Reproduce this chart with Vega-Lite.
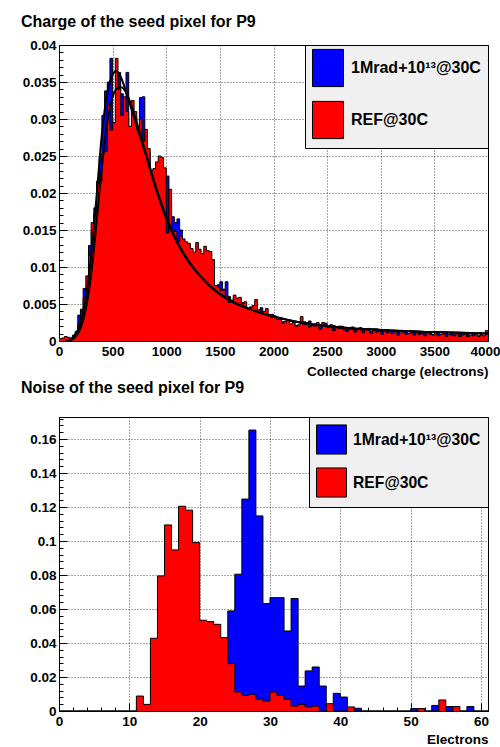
{
  "$schema": "https://vega.github.io/schema/vega-lite/v6.json",
  "padding": {"left": 20, "top": 13, "right": 0, "bottom": 0},
  "background": "white",
  "config": {
    "font": "Liberation Sans",
    "view": {"stroke": "black", "strokeWidth": 1},
    "axis": {
      "labelFont": "Liberation Sans", "labelFontWeight": "bold", "labelFontSize": 13.5, "labelColor": "black",
      "titleFont": "Liberation Sans", "titleFontWeight": "bold", "titleFontSize": 13.5, "titleColor": "black",
      "domainColor": "black", "tickColor": "black", "gridColor": "black", "gridDash": [1, 2],
      "labelOverlap": false, "labelFlush": false, "labelPadding": 11
    },
    "title": {"font": "Liberation Sans", "fontSize": 16, "fontWeight": "bold", "color": "black", "anchor": "start", "frame": "bounds", "offset": 8},
    "legend": {
      "orient": "top-right", "offset": 0, "padding": 7, "fillColor": "#f0f0f0", "strokeColor": "black",
      "labelFont": "Liberation Sans", "labelFontWeight": "bold", "labelColor": "black", "labelLimit": 0,
      "symbolStrokeColor": "black", "symbolStrokeWidth": 1, "symbolOpacity": 1, "title": null
    }
  },
  "datasets": {
    "top_blue": [
      {"x":0,"y":0},{"x":25,"y":0.0001},{"x":50,"y":0.0003},{"x":75,"y":0.0004},{"x":100,"y":0.0003},{"x":125,"y":0.0008},{"x":150,"y":0.001},{"x":175,"y":0.0035},{"x":200,"y":0.0043},{"x":225,"y":0.0071},
      {"x":250,"y":0.0072},{"x":275,"y":0.0129},{"x":300,"y":0.0148},{"x":325,"y":0.018},{"x":350,"y":0.0216},{"x":375,"y":0.025},{"x":400,"y":0.0305},{"x":425,"y":0.0338},{"x":450,"y":0.035},{"x":475,"y":0.0382},
      {"x":500,"y":0.0295},{"x":525,"y":0.026},{"x":550,"y":0.0363},{"x":575,"y":0.0334},{"x":600,"y":0.027},{"x":625,"y":0.0363},{"x":650,"y":0.029},{"x":675,"y":0.028},{"x":700,"y":0.0302},{"x":725,"y":0.0265},
      {"x":750,"y":0.0329},{"x":775,"y":0.033},{"x":800,"y":0.026},{"x":825,"y":0.0255},{"x":850,"y":0.0225},{"x":875,"y":0.021},{"x":900,"y":0.0208},{"x":925,"y":0.022},{"x":950,"y":0.0205},{"x":975,"y":0.0195},
      {"x":1000,"y":0.0223},{"x":1025,"y":0.0146},{"x":1050,"y":0.0168},{"x":1075,"y":0.016},{"x":1100,"y":0.0165},{"x":1125,"y":0.015},{"x":1150,"y":0.0125},{"x":1175,"y":0.011},{"x":1200,"y":0.013},{"x":1225,"y":0.01},
      {"x":1250,"y":0.0115},{"x":1275,"y":0.0105},{"x":1300,"y":0.0102},{"x":1325,"y":0.0098},{"x":1350,"y":0.009},{"x":1375,"y":0.0085},{"x":1400,"y":0.0082},{"x":1425,"y":0.0075},{"x":1450,"y":0.007},{"x":1475,"y":0.0076},
      {"x":1500,"y":0.008},{"x":1525,"y":0.007},{"x":1550,"y":0.008},{"x":1575,"y":0.006},{"x":1600,"y":0.0055},{"x":1625,"y":0.0058},{"x":1650,"y":0.0042},{"x":1675,"y":0.0045},{"x":1700,"y":0.0052},{"x":1725,"y":0.004},
      {"x":1750,"y":0.0028},{"x":1775,"y":0.0046},{"x":1800,"y":0.0042},{"x":1825,"y":0.004},{"x":1850,"y":0.0022},{"x":1875,"y":0.0045},{"x":1900,"y":0.0038},{"x":1925,"y":0.0035},{"x":1950,"y":0.0017},{"x":1975,"y":0.0036},
      {"x":2000,"y":0.0032},{"x":2025,"y":0.0025},{"x":2050,"y":0.0028},{"x":2075,"y":0.0026},{"x":2100,"y":0.0022},{"x":2125,"y":0.0027},{"x":2150,"y":0.0018},{"x":2175,"y":0.0024},{"x":2200,"y":0.0021},{"x":2225,"y":0.002},
      {"x":2250,"y":0.002},{"x":2275,"y":0.0026},{"x":2300,"y":0.0018},{"x":2325,"y":0.0027},{"x":2350,"y":0.0016},{"x":2375,"y":0.0023},{"x":2400,"y":0.0019},{"x":2425,"y":0.0022},{"x":2450,"y":0.0015},{"x":2475,"y":0.0024},
      {"x":2500,"y":0.0016},{"x":2525,"y":0.0019},{"x":2550,"y":0.0021},{"x":2575,"y":0.0013},{"x":2600,"y":0.002},{"x":2625,"y":0.0015},{"x":2650,"y":0.0018},{"x":2675,"y":0.0017},{"x":2700,"y":0.0012},{"x":2725,"y":0.0019},
      {"x":2750,"y":0.0015},{"x":2775,"y":0.0012},{"x":2800,"y":0.0018},{"x":2825,"y":0.0014},{"x":2850,"y":0.0011},{"x":2875,"y":0.0017},{"x":2900,"y":0.0013},{"x":2925,"y":0.001},{"x":2950,"y":0.0016},{"x":2975,"y":0.0011},
      {"x":3000,"y":0.0013},{"x":3025,"y":0.001},{"x":3050,"y":0.0015},{"x":3075,"y":0.0009},{"x":3100,"y":0.0013},{"x":3125,"y":0.0011},{"x":3150,"y":0.0012},{"x":3175,"y":0.0008},{"x":3200,"y":0.001},{"x":3225,"y":0.0013},
      {"x":3250,"y":0.0009},{"x":3275,"y":0.001},{"x":3300,"y":0.0012},{"x":3325,"y":0.0008},{"x":3350,"y":0.0011},{"x":3375,"y":0.0009},{"x":3400,"y":0.0011},{"x":3425,"y":0.0008},{"x":3450,"y":0.0012},{"x":3475,"y":0.0009},
      {"x":3500,"y":0.0008},{"x":3525,"y":0.001},{"x":3550,"y":0.0007},{"x":3575,"y":0.0009},{"x":3600,"y":0.001},{"x":3625,"y":0.0007},{"x":3650,"y":0.001},{"x":3675,"y":0.0009},{"x":3700,"y":0.0007},{"x":3725,"y":0.0009},
      {"x":3750,"y":0.001},{"x":3775,"y":0.0007},{"x":3800,"y":0.0009},{"x":3825,"y":0.0006},{"x":3850,"y":0.001},{"x":3875,"y":0.0008},{"x":3900,"y":0.0007},{"x":3925,"y":0.0009},{"x":3950,"y":0.0006},{"x":3975,"y":0.0008},
      {"x":4000,"y":0.0008}
    ],
    "top_red": [
      {"x":0,"y":0.0003},{"x":25,"y":0.0004},{"x":50,"y":0.0006},{"x":75,"y":0.0005},{"x":100,"y":0.0002},{"x":125,"y":0.0006},{"x":150,"y":0.0013},{"x":175,"y":0.0022},{"x":200,"y":0.0036},{"x":225,"y":0.0058},
      {"x":250,"y":0.0088},{"x":275,"y":0.0115},{"x":300,"y":0.016},{"x":325,"y":0.0172},{"x":350,"y":0.0213},{"x":375,"y":0.0215},{"x":400,"y":0.0254},{"x":425,"y":0.0256},{"x":450,"y":0.0318},{"x":475,"y":0.0285},
      {"x":500,"y":0.0295},{"x":525,"y":0.0382},{"x":550,"y":0.034},{"x":575,"y":0.0305},{"x":600,"y":0.033},{"x":625,"y":0.031},{"x":650,"y":0.029},{"x":675,"y":0.0325},{"x":700,"y":0.031},{"x":725,"y":0.0285},
      {"x":750,"y":0.03},{"x":775,"y":0.027},{"x":800,"y":0.0286},{"x":825,"y":0.026},{"x":850,"y":0.023},{"x":875,"y":0.0233},{"x":900,"y":0.0242},{"x":925,"y":0.025},{"x":950,"y":0.0248},{"x":975,"y":0.0234},
      {"x":1000,"y":0.0146},{"x":1025,"y":0.0205},{"x":1050,"y":0.015},{"x":1075,"y":0.0148},{"x":1100,"y":0.0135},{"x":1125,"y":0.0142},{"x":1150,"y":0.0138},{"x":1175,"y":0.0134},{"x":1200,"y":0.0132},{"x":1225,"y":0.0125},
      {"x":1250,"y":0.012},{"x":1275,"y":0.0133},{"x":1300,"y":0.0124},{"x":1325,"y":0.0118},{"x":1350,"y":0.0128},{"x":1375,"y":0.0122},{"x":1400,"y":0.0121},{"x":1425,"y":0.011},{"x":1450,"y":0.0075},{"x":1475,"y":0.0073},
      {"x":1500,"y":0.0068},{"x":1525,"y":0.0069},{"x":1550,"y":0.0061},{"x":1575,"y":0.0052},{"x":1600,"y":0.0055},{"x":1625,"y":0.0062},{"x":1650,"y":0.0058},{"x":1675,"y":0.0059},{"x":1700,"y":0.005},{"x":1725,"y":0.0053},
      {"x":1750,"y":0.0043},{"x":1775,"y":0.0045},{"x":1800,"y":0.0048},{"x":1825,"y":0.0056},{"x":1850,"y":0.0042},{"x":1875,"y":0.0039},{"x":1900,"y":0.004},{"x":1925,"y":0.0044},{"x":1950,"y":0.0036},{"x":1975,"y":0.0032},
      {"x":2000,"y":0.0034},{"x":2025,"y":0.0029},{"x":2050,"y":0.003},{"x":2075,"y":0.0024},{"x":2100,"y":0.0026},{"x":2125,"y":0.0029},{"x":2150,"y":0.0023},{"x":2175,"y":0.0025},{"x":2200,"y":0.002},{"x":2225,"y":0.0022},
      {"x":2250,"y":0.0033},{"x":2275,"y":0.0022},{"x":2300,"y":0.0025},{"x":2325,"y":0.0019},{"x":2350,"y":0.0021},{"x":2375,"y":0.002},{"x":2400,"y":0.0025},{"x":2425,"y":0.0016},{"x":2450,"y":0.0025},{"x":2475,"y":0.002},
      {"x":2500,"y":0.0018},{"x":2525,"y":0.0022},{"x":2550,"y":0.0014},{"x":2575,"y":0.0019},{"x":2600,"y":0.0017},{"x":2625,"y":0.002},{"x":2650,"y":0.0015},{"x":2675,"y":0.0013},{"x":2700,"y":0.0018},{"x":2725,"y":0.0016},
      {"x":2750,"y":0.0012},{"x":2775,"y":0.0017},{"x":2800,"y":0.0015},{"x":2825,"y":0.0011},{"x":2850,"y":0.0016},{"x":2875,"y":0.0014},{"x":2900,"y":0.001},{"x":2925,"y":0.0015},{"x":2950,"y":0.0012},{"x":2975,"y":0.0013},
      {"x":3000,"y":0.0009},{"x":3025,"y":0.0014},{"x":3050,"y":0.0011},{"x":3075,"y":0.0012},{"x":3100,"y":0.001},{"x":3125,"y":0.0013},{"x":3150,"y":0.0008},{"x":3175,"y":0.0011},{"x":3200,"y":0.0012},{"x":3225,"y":0.0009},
      {"x":3250,"y":0.001},{"x":3275,"y":0.0012},{"x":3300,"y":0.0008},{"x":3325,"y":0.0011},{"x":3350,"y":0.0009},{"x":3375,"y":0.001},{"x":3400,"y":0.0007},{"x":3425,"y":0.0011},{"x":3450,"y":0.0009},{"x":3475,"y":0.0008},
      {"x":3500,"y":0.001},{"x":3525,"y":0.0007},{"x":3550,"y":0.0009},{"x":3575,"y":0.001},{"x":3600,"y":0.0006},{"x":3625,"y":0.0009},{"x":3650,"y":0.0008},{"x":3675,"y":0.0007},{"x":3700,"y":0.001},{"x":3725,"y":0.0006},
      {"x":3750,"y":0.0008},{"x":3775,"y":0.0009},{"x":3800,"y":0.0006},{"x":3825,"y":0.0008},{"x":3850,"y":0.0007},{"x":3875,"y":0.0009},{"x":3900,"y":0.0006},{"x":3925,"y":0.0008},{"x":3950,"y":0.0007},{"x":3975,"y":0.0014},
      {"x":4000,"y":0.0014}
    ],
    "top_fit": [
      {"s":"b","x":60,"y":0},{"s":"b","x":100,"y":0.0002},{"s":"b","x":150,"y":0.0008},{"s":"b","x":200,"y":0.0024},{"s":"b","x":250,"y":0.0058},{"s":"b","x":300,"y":0.0115},{"s":"b","x":350,"y":0.0195},{"s":"b","x":400,"y":0.028},{"s":"b","x":450,"y":0.0335},{"s":"b","x":500,"y":0.036},{"s":"b","x":530,"y":0.0365},{"s":"b","x":575,"y":0.0357},{"s":"b","x":625,"y":0.0337},{"s":"b","x":675,"y":0.0314},{"s":"b","x":700,"y":0.0302},{"s":"b","x":800,"y":0.0256},{"s":"b","x":900,"y":0.0207},{"s":"b","x":1000,"y":0.0165},{"s":"b","x":1100,"y":0.0133},{"s":"b","x":1200,"y":0.0109},{"s":"b","x":1300,"y":0.009},{"s":"b","x":1400,"y":0.0075},{"s":"b","x":1500,"y":0.0063},{"s":"b","x":1600,"y":0.0054},{"s":"b","x":1800,"y":0.0042},{"s":"b","x":2000,"y":0.0033},{"s":"b","x":2250,"y":0.0025},{"s":"b","x":2500,"y":0.002},{"s":"b","x":3000,"y":0.0015},{"s":"b","x":3500,"y":0.0012},{"s":"b","x":4000,"y":0.001},
      {"s":"r","x":60,"y":0},{"s":"r","x":100,"y":0.0001},{"s":"r","x":150,"y":0.0005},{"s":"r","x":200,"y":0.0017},{"s":"r","x":250,"y":0.0043},{"s":"r","x":300,"y":0.009},{"s":"r","x":350,"y":0.016},{"s":"r","x":400,"y":0.0235},{"s":"r","x":450,"y":0.0295},{"s":"r","x":500,"y":0.033},{"s":"r","x":550,"y":0.0342},{"s":"r","x":580,"y":0.0343},{"s":"r","x":625,"y":0.0336},{"s":"r","x":675,"y":0.0318},{"s":"r","x":700,"y":0.0307},{"s":"r","x":800,"y":0.0259},{"s":"r","x":900,"y":0.021},{"s":"r","x":1000,"y":0.0168},{"s":"r","x":1100,"y":0.0135},{"s":"r","x":1200,"y":0.011},{"s":"r","x":1300,"y":0.0091},{"s":"r","x":1400,"y":0.0076},{"s":"r","x":1500,"y":0.0064},{"s":"r","x":1600,"y":0.0055},{"s":"r","x":1800,"y":0.0042},{"s":"r","x":2000,"y":0.0033},{"s":"r","x":2250,"y":0.0025},{"s":"r","x":2500,"y":0.002},{"s":"r","x":3000,"y":0.0015},{"s":"r","x":3500,"y":0.0012},{"s":"r","x":4000,"y":0.001}
    ],
    "bot_blue": [
      {"x":0,"y":0},{"x":1,"y":0},{"x":2,"y":0},{"x":3,"y":0},{"x":4,"y":0},{"x":5,"y":0},{"x":6,"y":0},{"x":7,"y":0},{"x":8,"y":0},{"x":9,"y":0},
      {"x":10,"y":0},{"x":11,"y":0},{"x":12,"y":0},{"x":13,"y":0},{"x":14,"y":0},{"x":15,"y":0},{"x":16,"y":0},{"x":17,"y":0},{"x":18,"y":0},{"x":19,"y":0},
      {"x":20,"y":0.002},{"x":21,"y":0.003},{"x":22,"y":0.005},{"x":23,"y":0.01},{"x":24,"y":0.0589},{"x":25,"y":0.0805},{"x":26,"y":0.1247},{"x":27,"y":0.1653},{"x":28,"y":0.1148},{"x":29,"y":0.0632},
      {"x":30,"y":0.0667},{"x":31,"y":0.0667},{"x":32,"y":0.0471},{"x":33,"y":0.0662},{"x":34,"y":0.0147},{"x":35,"y":0.0236},{"x":36,"y":0.0259},{"x":37,"y":0.0147},{"x":38,"y":0.002},{"x":39,"y":0.0104},
      {"x":40,"y":0.0082},{"x":41,"y":0.001},{"x":42,"y":0.0016},{"x":43,"y":0},{"x":44,"y":0},{"x":45,"y":0},{"x":46,"y":0},{"x":47,"y":0},{"x":48,"y":0},{"x":49,"y":0},
      {"x":50,"y":0.0014},{"x":51,"y":0},{"x":52,"y":0},{"x":53,"y":0.0033},{"x":54,"y":0},{"x":55,"y":0.0026},{"x":56,"y":0},{"x":57,"y":0},{"x":58,"y":0.0026},{"x":59,"y":0},
      {"x":60,"y":0},{"x":61,"y":0}
    ],
    "bot_red": [
      {"x":0,"y":0},{"x":1,"y":0},{"x":2,"y":0},{"x":3,"y":0},{"x":4,"y":0},{"x":5,"y":0},{"x":6,"y":0},{"x":7,"y":0},{"x":8,"y":0},{"x":9,"y":0},
      {"x":10,"y":0},{"x":11,"y":0.0088},{"x":12,"y":0.0039},{"x":13,"y":0.0428},{"x":14,"y":0.0795},{"x":15,"y":0.1095},{"x":16,"y":0.0948},{"x":17,"y":0.1205},{"x":18,"y":0.1182},{"x":19,"y":0.0991},
      {"x":20,"y":0.0534},{"x":21,"y":0.0526},{"x":22,"y":0.051},{"x":23,"y":0.0432},{"x":24,"y":0.0279},{"x":25,"y":0.0112},{"x":26,"y":0.0092},{"x":27,"y":0.0098},{"x":28,"y":0.0069},{"x":29,"y":0.0059},
      {"x":30,"y":0.0112},{"x":31,"y":0.0092},{"x":32,"y":0.0069},{"x":33,"y":0.0029},{"x":34,"y":0.0039},{"x":35,"y":0.0024},{"x":36,"y":0.0029},{"x":37,"y":0},{"x":38,"y":0.0043},{"x":39,"y":0},
      {"x":40,"y":0},{"x":41,"y":0.0024},{"x":42,"y":0},{"x":43,"y":0},{"x":44,"y":0},{"x":45,"y":0},{"x":46,"y":0},{"x":47,"y":0},{"x":48,"y":0},{"x":49,"y":0},
      {"x":50,"y":0},{"x":51,"y":0.0014},{"x":52,"y":0},{"x":53,"y":0},{"x":54,"y":0.0065},{"x":55,"y":0},{"x":56,"y":0.0026},{"x":57,"y":0},{"x":58,"y":0},{"x":59,"y":0},
      {"x":60,"y":0},{"x":61,"y":0}
    ]
  },
  "spacing": 0,
  "resolve": {"scale": {"color": "independent"}, "legend": {"color": "independent"}},
  "vconcat": [
    {
      "title": {"text": "Charge of the seed pixel for P9"},
      "width": 429,
      "height": 296,
      "encoding": {
        "x": {"field": "x", "type": "quantitative",
          "scale": {"domain": [0, 4000], "nice": false, "zero": false},
          "axis": {"title": "Collected charge (electrons)", "titleAnchor": "end", "titlePadding": 3, "format": "d",
            "values": [0,100,200,300,400,500,600,700,800,900,1000,1100,1200,1300,1400,1500,1600,1700,1800,1900,2000,2100,2200,2300,2400,2500,2600,2700,2800,2900,3000,3100,3200,3300,3400,3500,3600,3700,3800,3900,4000],
            "labelExpr": "datum.value % 500 === 0 ? datum.label : ''",
            "labelOffset": {"condition": {"test": "datum.value === 4000", "value": -3}, "value": 0},
            "tickSize": {"condition": {"test": "datum.value % 500 === 0", "value": -8}, "value": -4},
            "gridOpacity": {"condition": {"test": "datum.value % 500 === 0", "value": 0.7}, "value": 0}}},
        "y": {"field": "y", "type": "quantitative",
          "scale": {"domain": [0, 0.04], "nice": false},
          "axis": {"title": null, "format": "~g", "minExtent": 38, "maxExtent": 38,
            "values": [0,0.001,0.002,0.003,0.004,0.005,0.006,0.007,0.008,0.009,0.01,0.011,0.012,0.013,0.014,0.015,0.016,0.017,0.018,0.019,0.02,0.021,0.022,0.023,0.024,0.025,0.026,0.027,0.028,0.029,0.03,0.031,0.032,0.033,0.034,0.035,0.036,0.037,0.038,0.039,0.04],
            "labelExpr": "round(datum.value*1000) % 5 === 0 ? datum.label : ''",
            "tickSize": {"condition": {"test": "round(datum.value*1000) % 5 === 0", "value": -8}, "value": -4},
            "gridOpacity": {"condition": {"test": "round(datum.value*1000) % 5 === 0", "value": 0.7}, "value": 0}}}
      },
      "layer": [
        {"data": {"name": "top_blue"}, "mark": {"type": "area", "interpolate": "step-after", "opacity": 1},
          "encoding": {"color": {"datum": "1Mrad+10¹³@30C", "type": "nominal",
            "scale": {"domain": ["1Mrad+10¹³@30C", "REF@30C"], "range": ["#0000ff", "#ff0000"]},
            "legend": {"symbolType": "M-1,-1.2H1V1.2H-1Z", "symbolSize": 961, "labelFontSize": 16, "rowPadding": 10, "labelOffset": 7}}}},
        {"data": {"name": "top_blue"}, "mark": {"type": "line", "interpolate": "step-after", "color": "black", "strokeWidth": 1}, "encoding": {}},
        {"data": {"name": "top_red"}, "mark": {"type": "area", "interpolate": "step-after", "opacity": 1},
          "encoding": {"color": {"datum": "REF@30C", "type": "nominal"}}},
        {"data": {"name": "top_red"}, "mark": {"type": "line", "interpolate": "step-after", "color": "black", "strokeWidth": 1}, "encoding": {}},
        {"data": {"name": "top_fit"}, "mark": {"type": "line", "interpolate": "monotone", "color": "black", "strokeWidth": 2},
          "encoding": {"detail": {"field": "s", "type": "nominal"}}}
      ]
    },
    {
      "title": {"text": "Noise of the seed pixel for P9", "offset": 16},
      "width": 429,
      "height": 294,
      "encoding": {
        "x": {"field": "x", "type": "quantitative",
          "scale": {"domain": [0, 61], "nice": false, "zero": false},
          "axis": {"title": "Electrons", "titleAnchor": "end", "titlePadding": 1, "format": "d",
            "values": [0,2,4,6,8,10,12,14,16,18,20,22,24,26,28,30,32,34,36,38,40,42,44,46,48,50,52,54,56,58,60],
            "labelExpr": "datum.value % 10 === 0 ? datum.label : ''",
            "tickSize": {"condition": {"test": "datum.value % 10 === 0", "value": -8}, "value": -4},
            "gridOpacity": {"condition": {"test": "datum.value % 10 === 0", "value": 0.7}, "value": 0}}},
        "y": {"field": "y", "type": "quantitative",
          "scale": {"domain": [0, 0.173], "nice": false},
          "axis": {"title": null, "format": "~g", "minExtent": 38, "maxExtent": 38,
            "values": [0,0.004,0.008,0.012,0.016,0.02,0.024,0.028,0.032,0.036,0.04,0.044,0.048,0.052,0.056,0.06,0.064,0.068,0.072,0.076,0.08,0.084,0.088,0.092,0.096,0.1,0.104,0.108,0.112,0.116,0.12,0.124,0.128,0.132,0.136,0.14,0.144,0.148,0.152,0.156,0.16,0.164,0.168,0.172],
            "labelExpr": "round(datum.value*1000) % 20 === 0 ? datum.label : ''",
            "tickSize": {"condition": {"test": "round(datum.value*1000) % 20 === 0", "value": -8}, "value": -4},
            "gridOpacity": {"condition": {"test": "round(datum.value*1000) % 20 === 0", "value": 0.7}, "value": 0}}}
      },
      "layer": [
        {"data": {"name": "bot_blue"}, "mark": {"type": "area", "interpolate": "step-after", "opacity": 1},
          "encoding": {"color": {"datum": "1Mrad+10¹³@30C", "type": "nominal",
            "scale": {"domain": ["1Mrad+10¹³@30C", "REF@30C"], "range": ["#0000ff", "#ff0000"]},
            "legend": {"symbolType": "M-1,-0.97H1V0.97H-1Z", "symbolSize": 900, "labelFontSize": 15.7, "rowPadding": 8, "labelOffset": 6}}}},
        {"data": {"name": "bot_blue"}, "mark": {"type": "line", "interpolate": "step-after", "color": "black", "strokeWidth": 1}, "encoding": {}},
        {"data": {"name": "bot_red"}, "mark": {"type": "area", "interpolate": "step-after", "opacity": 1},
          "encoding": {"color": {"datum": "REF@30C", "type": "nominal"}}},
        {"data": {"name": "bot_red"}, "mark": {"type": "line", "interpolate": "step-after", "color": "black", "strokeWidth": 1}, "encoding": {}}
      ]
    }
  ]
}
